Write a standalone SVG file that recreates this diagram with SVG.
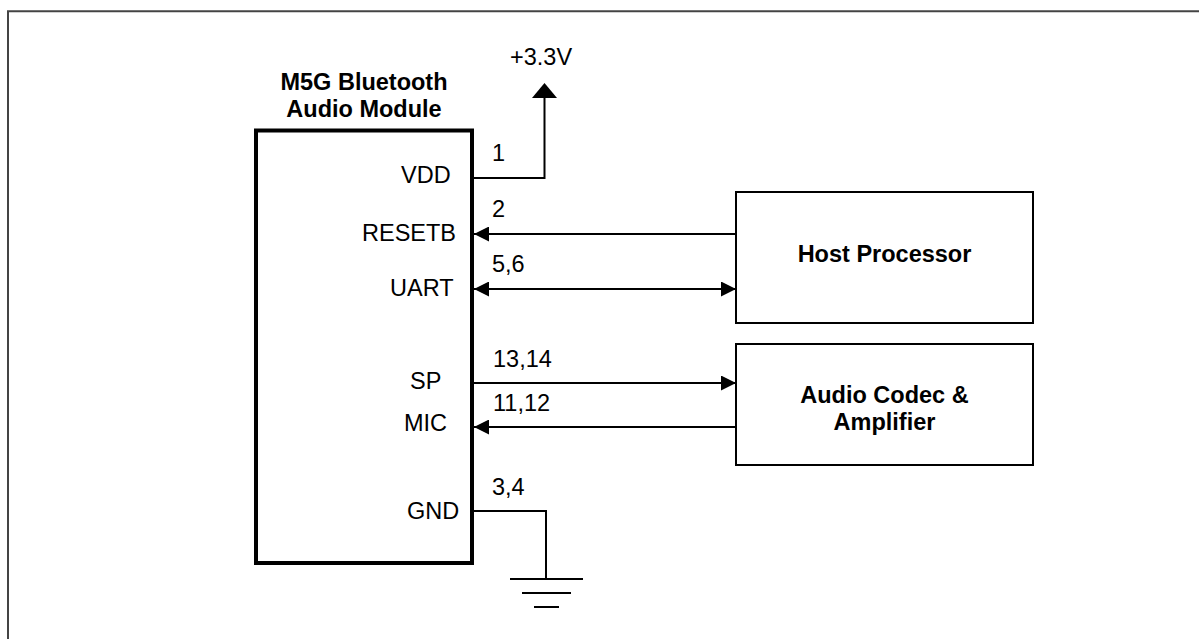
<svg xmlns="http://www.w3.org/2000/svg" width="1199" height="639" viewBox="0 0 1199 639">
<style>
text{font-family:"Liberation Sans",Arial,sans-serif;font-size:23.5px;fill:#000}
.b{font-weight:bold}
.m{text-anchor:middle}
.box{fill:#fff;stroke:#000;stroke-width:2}
.w{fill:none;stroke:#000;stroke-width:2}
</style>
<defs>
<marker id="ah" viewBox="0 0 15 15" refX="15" refY="7.5" markerWidth="15" markerHeight="15" markerUnits="userSpaceOnUse" orient="auto-start-reverse">
<path d="M0,0 L15,7.5 L0,15 Z" fill="#000"/>
</marker>
</defs>
<rect width="1199" height="639" fill="#fff"/>
<path d="M8,639 V11.3 H1199" fill="none" stroke="#444" stroke-width="2"/>

<g id="module">
<rect x="256" y="130.5" width="216" height="432.5" fill="#fff" stroke="#000" stroke-width="4"/>
<text class="b m" x="364" y="90">M5G Bluetooth</text>
<text class="b m" x="364" y="117">Audio Module</text>
<text x="401" y="183">VDD</text>
<text x="362" y="241">RESETB</text>
<text x="390" y="296">UART</text>
<text x="410" y="389">SP</text>
<text x="404" y="431">MIC</text>
<text x="407" y="519">GND</text>
</g>

<g id="host">
<rect class="box" x="736" y="192" width="297" height="131"/>
<text class="b m" x="884.5" y="262">Host Processor</text>
</g>

<g id="codec">
<rect class="box" x="736" y="344" width="297" height="121"/>
<text class="b m" x="884.5" y="403">Audio Codec &amp;</text>
<text class="b m" x="884.5" y="430">Amplifier</text>
</g>

<g id="power">
<path d="M532,98 L557,98 L544.5,83 Z" fill="#000"/>
<text x="510" y="65">+3.3V</text>
</g>

<g id="ground">
<path class="w" d="M510,579 H583 M522,593 H571 M534,607 H559"/>
</g>

<g id="connectors">
<path class="w" d="M474,178 H544.5 V97"/>
<path class="w" d="M736,234 H474" marker-end="url(#ah)"/>
<path class="w" d="M474,289 H736" marker-start="url(#ah)" marker-end="url(#ah)"/>
<path class="w" d="M474,383 H736" marker-end="url(#ah)"/>
<path class="w" d="M736,427 H474" marker-end="url(#ah)"/>
<path class="w" d="M474,511 H546 V579"/>
<text x="492" y="161">1</text>
<text x="492" y="217">2</text>
<text x="492" y="272">5,6</text>
<text x="493" y="367">13,14</text>
<text x="493" y="411">11,12</text>
<text x="492" y="495">3,4</text>
</g>
</svg>
